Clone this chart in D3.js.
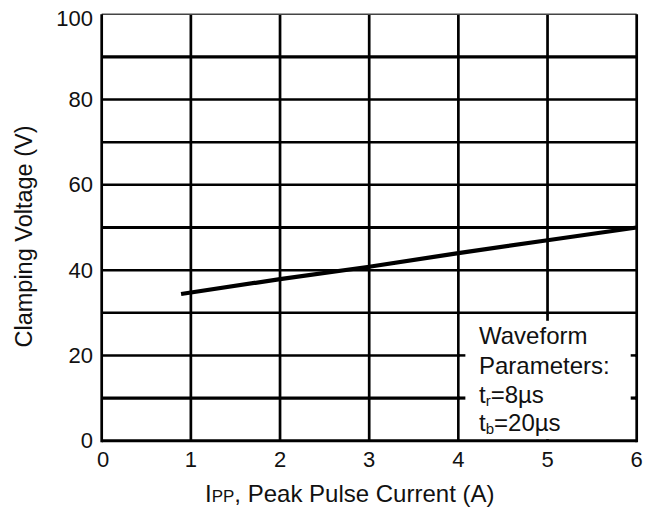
<!DOCTYPE html>
<html><head><meta charset="utf-8">
<script src="https://cdn.jsdelivr.net/npm/d3@7"></script>
<style>body{margin:0;background:#fff}svg{display:block}text{font-family:"Liberation Sans",Arial,sans-serif;fill:#111}</style>
</head><body>
<svg id="c" width="660" height="513"></svg>
<script>
const xTicks = [0, 1, 2, 3, 4, 5, 6];
const yTicks = [0, 20, 40, 60, 80, 100];
const yGrid = [10, 20, 30, 40, 50, 60, 70, 80, 90];
const xGrid = [1, 2, 3, 4, 5];
const current = [0.89, 2, 3, 4, 5, 6];
const voltage = [34.4, 37.9, 40.8, 44.0, 47.0, 50.0];
const boxLines = ["Waveform", "Parameters:", "tr=8µs", "tb=20µs"];

const svg = d3.select("#c");
const x = d3.scaleLinear().domain([0, 6]).range([101.7, 636.7]);
const y = d3.scaleLinear().domain([0, 100]).range([440.7, 14.3]);
const thick = new Set([90, 50, 10]);

const g = svg.append("g");
// horizontal grid
g.selectAll(".hg").data(yGrid).join("line")
  .attr("x1", x(0)).attr("x2", x(6))
  .attr("y1", d => y(d)).attr("y2", d => y(d))
  .attr("stroke", "#000").attr("stroke-width", d => thick.has(d) ? 3.2 : 2.5);
// vertical grid
g.selectAll(".vg").data(xGrid).join("line")
  .attr("x1", d => x(d)).attr("x2", d => x(d))
  .attr("y1", y(0)).attr("y2", y(100))
  .attr("stroke", "#000").attr("stroke-width", 2.7);
// parameter box white-out
g.append("rect")
  .attr("x", x(4) + 1.5).attr("y", y(30) + 1.5)
  .attr("width", x(6) - x(4) - 3).attr("height", y(0) - y(30) - 3)
  .attr("fill", "#fff");
// ticks inside box
[10, 20].forEach(v => {
  g.append("line").attr("x1", x(4)).attr("x2", x(4) + 7).attr("y1", y(v)).attr("y2", y(v))
    .attr("stroke", "#000").attr("stroke-width", thick.has(v) ? 3.2 : 2.5);
  g.append("line").attr("x1", x(6) - 6).attr("x2", x(6)).attr("y1", y(v)).attr("y2", y(v))
    .attr("stroke", "#000").attr("stroke-width", thick.has(v) ? 3.2 : 2.5);
});
g.append("line").attr("x1", x(5)).attr("x2", x(5)).attr("y1", y(30)).attr("y2", y(30) + 8)
  .attr("stroke", "#000").attr("stroke-width", 2.7);

// border
g.append("line").attr("x1", x(0)).attr("x2", x(6)).attr("y1", y(100)).attr("y2", y(100)).attr("stroke", "#444").attr("stroke-width", 1.6);
g.append("line").attr("x1", x(0)).attr("x2", x(6)).attr("y1", y(0)).attr("y2", y(0)).attr("stroke", "#000").attr("stroke-width", 3);
g.append("line").attr("x1", x(0)).attr("x2", x(0)).attr("y1", y(0) + 1.5).attr("y2", y(100)).attr("stroke", "#000").attr("stroke-width", 2.7);
g.append("line").attr("x1", x(6)).attr("x2", x(6)).attr("y1", y(0) + 1.5).attr("y2", y(100)).attr("stroke", "#000").attr("stroke-width", 2.7);

// data line
const line = d3.line().x((d, i) => x(current[i])).y(d => y(d));
g.append("path").datum(voltage).attr("d", line)
  .attr("fill", "none").attr("stroke", "#000").attr("stroke-width", 4.2).attr("stroke-linecap", "butt");

// tick labels
g.selectAll(".yt").data(yTicks).join("text")
  .attr("x", 93).attr("y", d => y(d) + (d === 100 ? 12 : 7.5)).attr("text-anchor", "end")
  .attr("font-size", 22).text(d => d);
g.selectAll(".xt").data(xTicks).join("text")
  .attr("x", d => x(d) + (d === 0 ? 1.5 : 0)).attr("y", 467).attr("text-anchor", "middle")
  .attr("font-size", 22).text(d => d);

// axis titles
const xt = g.append("text").attr("x", 205).attr("y", 502).attr("font-size", 24);
xt.append("tspan").text("I");
xt.append("tspan").attr("font-size", 17).text("PP");
xt.append("tspan").text(", Peak Pulse Current (A)");

g.append("text").attr("transform", "translate(32,236.5) rotate(-90)")
  .attr("text-anchor", "middle").attr("font-size", 23.5).text("Clamping Voltage (V)");

// box text
const bx = 479, by = [344, 374, 403, 431];
g.append("text").attr("x", bx).attr("y", by[0]).attr("font-size", 24).text(boxLines[0]);
g.append("text").attr("x", bx).attr("y", by[1]).attr("font-size", 24).text(boxLines[1]);
const t1 = g.append("text").attr("x", bx).attr("y", by[2]).attr("font-size", 24);
t1.append("tspan").text(boxLines[2].slice(0, 1));
t1.append("tspan").attr("font-size", 15).attr("dy", 3).text(boxLines[2].slice(1, 2));
t1.append("tspan").attr("dy", -3).text(boxLines[2].slice(2));
const t2 = g.append("text").attr("x", bx).attr("y", by[3]).attr("font-size", 24);
t2.append("tspan").text(boxLines[3].slice(0, 1));
t2.append("tspan").attr("font-size", 15).attr("dy", 3).text(boxLines[3].slice(1, 2));
t2.append("tspan").attr("dy", -3).text(boxLines[3].slice(2));
</script>
</body></html>
